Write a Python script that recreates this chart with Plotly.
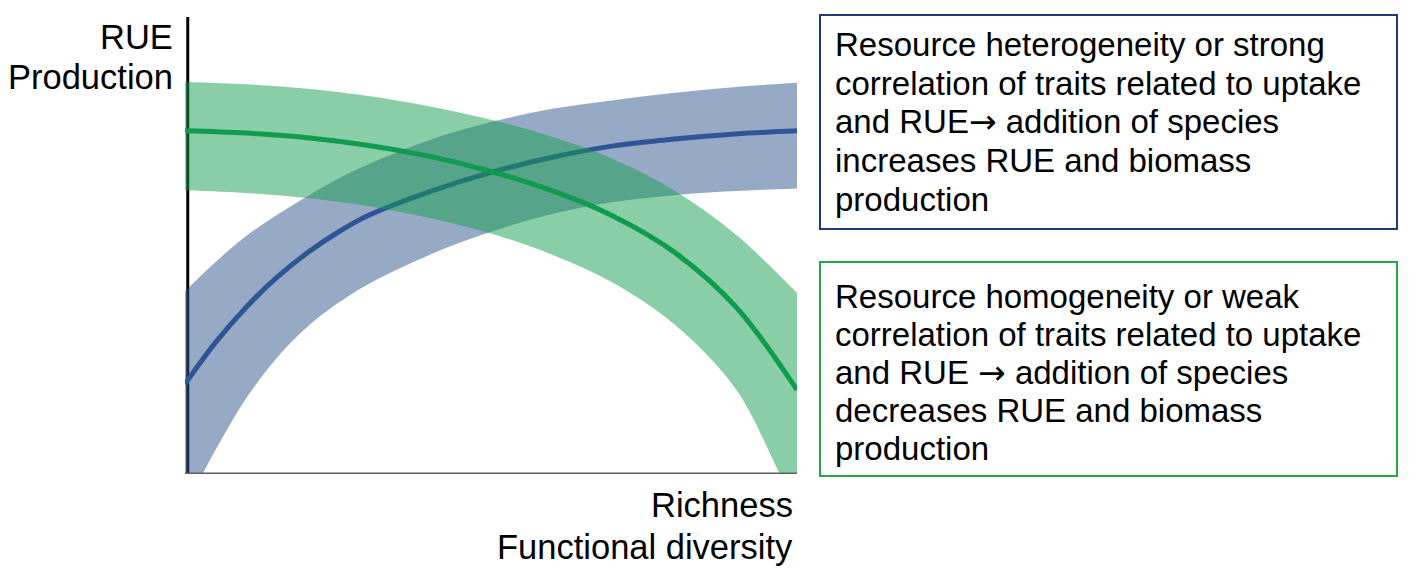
import plotly.graph_objects as go

# x: richness / functional diversity (0-100), y: RUE / production (0-100)
x_blue = [0, 5, 10, 15, 20, 25, 30, 40, 50, 60, 70, 80, 90, 100]
blue_mid = [19.7, 28.8, 36.5, 43.0, 48.4, 52.9, 56.6, 61.8, 66.0, 69.3, 71.8, 73.3, 74.4, 75.1]
blue_top = [40.0, 46.4, 52.1, 56.7, 60.8, 64.6, 67.8, 73.1, 77.0, 79.9, 81.8, 83.4, 84.7, 85.6]
x_blue_low = [0, 2.9, 5, 10, 15, 20, 25, 30, 40, 50, 60, 70, 80, 90, 100]
blue_low = [-8, 0, 5.3, 16.6, 25.4, 32.2, 37.4, 41.6, 48.0, 53.0, 56.9, 59.5, 61.0, 61.9, 62.5]

x_green = [0, 10, 20, 30, 40, 50, 60, 70, 80, 90, 100]
green_mid = [75.1, 74.6, 73.6, 71.9, 69.5, 66.2, 62.0, 56.4, 48.5, 36.6, 18.4]
green_top = [85.8, 85.3, 84.3, 82.7, 80.4, 77.5, 73.8, 68.9, 62.0, 52.4, 39.6]
x_green_low = [0, 10, 20, 30, 40, 50, 60, 70, 80, 90, 97.2, 100]
green_low = [62.1, 61.5, 60.4, 58.6, 56.0, 52.6, 48.0, 41.8, 32.7, 18.6, 0, -7.2]

ARROW = '<span style="font-family:DejaVu Sans">\u2192</span>'
box_blue = ["Resource heterogeneity or strong",
            "correlation of traits related to uptake",
            "and RUE" + ARROW + " addition of species",
            "increases RUE and biomass",
            "production"]
box_green = ["Resource homogeneity or weak",
             "correlation of traits related to uptake",
             "and RUE " + ARROW + " addition of species",
             "decreases RUE and biomass",
             "production"]

OFF = 8  # page body margin
W, H = 1418 - OFF, 575 - OFF
PX0, PX1, PY0, PY1 = 185, 797, 17, 474   # plot area in screenshot pixels
L, R, T, B = PX0 - OFF, W - (PX1 - OFF), PY0 - OFF, H - (PY1 - OFF)
FONT = "Liberation Sans, Arial, sans-serif"

def px_x(p):
    return (p - PX0) / (PX1 - PX0)

def px_y(p):
    return (PY1 - p) / (PY1 - PY0)

BLUE = "rgb(47,85,151)"
GREEN = "rgb(16,155,78)"

fig = go.Figure()
# blue band + line
fig.add_trace(go.Scatter(x=x_blue_low, y=blue_low, mode="lines", line=dict(width=0, shape="spline"),
                         hoverinfo="skip", showlegend=False))
fig.add_trace(go.Scatter(x=x_blue, y=blue_top, mode="lines", line=dict(width=0, shape="spline"),
                         fill="tonexty", fillcolor="rgba(47,85,140,0.5)", hoverinfo="skip", showlegend=False))
fig.add_trace(go.Scatter(x=x_blue, y=blue_mid, mode="lines", line=dict(color=BLUE, width=5, shape="spline"),
                         showlegend=False))
# green band + line
fig.add_trace(go.Scatter(x=x_green_low, y=green_low, mode="lines", line=dict(width=0, shape="spline"),
                         hoverinfo="skip", showlegend=False))
fig.add_trace(go.Scatter(x=x_green, y=green_top, mode="lines", line=dict(width=0, shape="spline"),
                         fill="tonexty", fillcolor="rgba(22,157,80,0.5)", hoverinfo="skip", showlegend=False))
fig.add_trace(go.Scatter(x=x_green, y=green_mid, mode="lines", line=dict(color=GREEN, width=5, shape="spline"),
                         showlegend=False))

shapes = [
    # y axis line (under the bands)
    dict(type="line", xref="x", yref="y", x0=0.45, x1=0.45, y0=0, y1=100,
         line=dict(color="black", width=3), layer="below"),
    # x axis line
    dict(type="line", xref="x", yref="y", x0=0, x1=100, y0=0, y1=0,
         line=dict(color="rgb(96,96,96)", width=3), layer="above"),
    # text boxes
    dict(type="rect", xref="paper", yref="paper", x0=px_x(820), x1=px_x(1397), y0=px_y(229), y1=px_y(15),
         line=dict(color="rgb(31,58,122)", width=2), fillcolor="rgba(0,0,0,0)"),
    dict(type="rect", xref="paper", yref="paper", x0=px_x(820), x1=px_x(1397), y0=px_y(476), y1=px_y(262),
         line=dict(color="rgb(38,168,74)", width=2), fillcolor="rgba(0,0,0,0)"),
]

ann = []
def label(txt, xp, yp, anchor, size=33):
    ann.append(dict(text=txt, xref="paper", yref="paper", x=px_x(xp), y=px_y(yp),
                    xanchor=anchor, yanchor="middle", showarrow=False,
                    font=dict(family=FONT, size=size, color="black")))

label("RUE", 175, 37, "right", 34.5)
label("Production", 175, 77, "right", 34.5)
label("Richness", 795, 505, "right", 34.5)
label("Functional diversity", 795, 547, "right", 34.5)

blue_rows = [45, 83.5, 122, 160.5, 199]
green_rows = [296, 334, 372, 410, 448]
for t, yy in zip(box_blue, blue_rows):
    label(t, 833, yy, "left")
for t, yy in zip(box_green, green_rows):
    label(t, 833, yy, "left")

fig.update_layout(
    width=W, height=H,
    margin=dict(l=L, r=R, t=T, b=B),
    paper_bgcolor="white", plot_bgcolor="white",
    xaxis=dict(range=[0, 100], visible=False, fixedrange=True),
    yaxis=dict(range=[0, 100], visible=False, fixedrange=True),
    shapes=shapes, annotations=ann,
    showlegend=False,
)

fig.write_html("out.html")
